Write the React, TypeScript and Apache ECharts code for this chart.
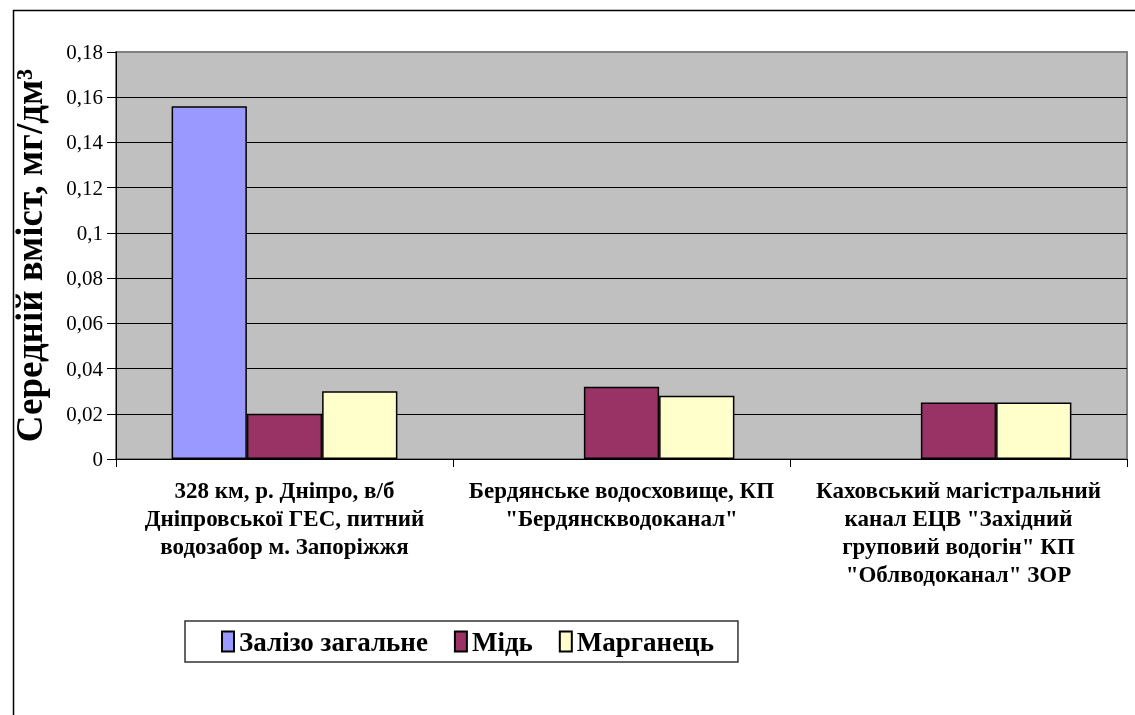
import React, { useEffect, useRef } from "react";
import * as echarts from "echarts";

const categories = [
  "328 км, р. Дніпро, в/б\nДніпровської ГЕС, питний\nводозабор м. Запоріжжя",
  "Бердянське водосховище, КП\n\"Бердянскводоканал\"",
  "Каховський магістральний\nканал ЕЦВ \"Західний\nгруповий водогін\" КП\n\"Облводоканал\" ЗОР",
];
const seriesNames = ["Залізо загальне", "Мідь", "Марганець"];
const ironValues = [0.156, null, null];
const copperValues = [0.02, 0.032, 0.025];
const manganeseValues = [0.03, 0.028, 0.025];
const yTitle = "Середній вміст, мг/дм³";

const SERIF = "Liberation Serif";

export default function App() {
  const ref = useRef<HTMLDivElement>(null);
  useEffect(() => {
    if (!ref.current) return;
    const chart = echarts.init(ref.current, undefined, { renderer: "svg" });
    const colors = ["#9999FF", "#993366", "#FFFFCC"];
    const values = [ironValues, copperValues, manganeseValues];
    chart.setOption({
      animation: false,
      graphic: [
        {
          type: "rect",
          left: 11,
          top: 8,
          shape: { width: 1200, height: 800 },
          style: { fill: "none", stroke: "#000", lineWidth: 1.5 },
          silent: true,
          z: -10,
        },
      ],
      grid: {
        left: 116,
        top: 52,
        right: 8,
        bottom: 256,
        show: true,
        backgroundColor: "#C0C0C0",
        borderColor: "#808080",
        borderWidth: 2,
      },
      legend: {
        left: 185,
        top: 621,
        data: seriesNames,
        orient: "horizontal",
        icon: "rect",
        itemWidth: 12,
        itemHeight: 20,
        itemGap: 26,
        padding: [7, 24, 7, 36],
        backgroundColor: "#FFFFFF",
        borderColor: "#333",
        borderWidth: 1.5,
        textStyle: {
          fontFamily: SERIF,
          fontWeight: "bold",
          fontSize: 27,
          color: "#000",
        },
      },
      xAxis: {
        type: "category",
        data: categories,
        axisLine: { show: true, lineStyle: { color: "#000", width: 1 } },
        axisTick: { show: true, length: 8, lineStyle: { color: "#000" } },
        axisLabel: {
          interval: 0,
          margin: 17,
          color: "#000",
          fontFamily: SERIF,
          fontWeight: "bold",
          fontSize: 23,
          lineHeight: 28,
        },
      },
      yAxis: {
        type: "value",
        min: 0,
        max: 0.18,
        interval: 0.02,
        name: yTitle,
        nameLocation: "middle",
        nameRotate: 90,
        nameGap: 68,
        nameTextStyle: {
          fontFamily: SERIF,
          fontWeight: "bold",
          fontSize: 37,
          color: "#000",
        },
        axisLine: { show: true, lineStyle: { color: "#000", width: 1 } },
        axisTick: { show: true, length: 9, lineStyle: { color: "#000" } },
        axisLabel: {
          margin: 13,
          color: "#000",
          fontFamily: SERIF,
          fontSize: 21,
          formatter: (v: number) => String(+v.toFixed(4)).replace(".", ","),
        },
        splitLine: {
          show: true,
          showMaxLine: false,
          lineStyle: { color: "#000", width: 1 },
        },
      },
      series: seriesNames.map((name, i) => ({
        name,
        type: "bar",
        data: values[i],
        barGap: "0%",
        barCategoryGap: "33%",
        itemStyle: { color: colors[i], borderColor: "#000", borderWidth: 1.5 },
      })),
    });
    return () => chart.dispose();
  }, []);
  return (
    <div
      ref={ref}
      style={{ position: "fixed", left: 0, top: 0, width: 1135, height: 715 }}
    />
  );
}
